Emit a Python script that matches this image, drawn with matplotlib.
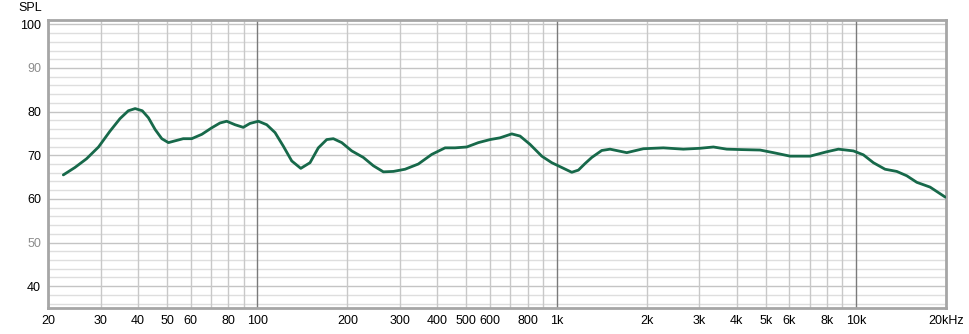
import matplotlib.pyplot as plt

# values (Hz, dB SPL)
freq = [22.5, 24.6, 26.9, 29.5, 32.2, 34.8, 37.1, 39.1, 41.3, 43.3, 45.6, 48.0,
        50.5, 53.1, 56.6, 60.4, 65.3, 70.5, 75.1, 79.1, 84.3, 89.8, 94.6, 100.9,
        107.6, 114.7, 122.2, 130.4, 139.8, 150.1, 160.0, 170.7, 179.6, 191.6,
        206.9, 226.2, 244.3, 263.9, 285.0, 311.8, 345.4, 382.8, 424.2, 458.0,
        501.2, 548.0, 599.8, 647.4, 708.6, 755.2, 815.4, 892.4, 963.6, 1041,
        1124, 1183, 1245, 1311, 1416, 1509, 1716, 1950, 2274, 2652, 3016, 3342,
        3704, 4150, 4786, 5302, 6028, 7031, 7992, 8740, 9810, 10594, 11440,
        12518, 13694, 14792, 15976, 17702, 19900]
spl = [65.5, 67.2, 69.2, 71.9, 75.5, 78.4, 80.2, 80.7, 80.2, 78.6, 75.9, 73.8,
       72.9, 73.3, 73.8, 73.8, 74.8, 76.3, 77.4, 77.8, 77.0, 76.4, 77.3, 77.8,
       77.0, 75.2, 72.1, 68.7, 67.0, 68.3, 71.7, 73.6, 73.8, 72.9,
       71.0, 69.5, 67.6, 66.2, 66.3, 66.8, 68.0, 70.2, 71.7, 71.7,
       71.9, 72.9, 73.6, 74.0, 74.9, 74.4, 72.5, 69.8, 68.3, 67.2,
       66.1, 66.6, 68.1, 69.5, 71.1, 71.4, 70.6, 71.5, 71.7, 71.4, 71.6, 71.9,
       71.4, 71.3, 71.2, 70.6, 69.8, 69.8, 70.8, 71.4, 71.0, 70.1, 68.3,
       66.8, 66.3, 65.3, 63.8, 62.7, 60.4]

x_ticks = [20, 30, 40, 50, 60, 80, 100, 200, 300, 400, 500, 600, 800, 1000,
           2000, 3000, 4000, 5000, 6000, 8000, 10000, 20000]
x_labels = ['20', '30', '40', '50', '60', '80', '100', '200', '300', '400', '500',
            '600', '800', '1k', '2k', '3k', '4k', '5k', '6k', '8k', '10k', '20kHz']
y_ticks = [40, 50, 60, 70, 80, 90, 100]
y_label_colors = ['black', '#8c8c8c', 'black', 'black', 'black', '#8c8c8c', 'black']

plt.rcParams['font.family'] = ['Liberation Sans', 'DejaVu Sans']

fig = plt.figure(figsize=(9.7, 3.34), dpi=100)
ax = fig.add_axes([48 / 970, 26 / 334, 898 / 970, 288 / 334])

ax.set_xscale('log')
ax.set_xlim(20, 20000)
ax.set_ylim(35, 101)

# grid: 2 dB minor, 10 dB major
for v in range(36, 101, 2):
    c = '#c4c4c4' if v % 10 == 0 else '#dedede'
    ax.axhline(v, color=c, lw=1, zorder=0)
for dec in [10, 100, 1000]:
    for m in range(2, 10):
        ax.axvline(m * dec, color='#c8c8c8', lw=1, zorder=0)
for d in [100, 1000, 10000]:
    ax.axvline(d, color='#7a7a7a', lw=1, zorder=0)

ax.plot(freq, spl, color='#17694a', lw=2, solid_capstyle='round',
        solid_joinstyle='round', zorder=3)

ax.set_xticks(x_ticks)
ax.set_xticklabels(x_labels, fontsize=9)
ax.xaxis.set_minor_locator(plt.NullLocator())
ax.set_yticks(y_ticks)
ax.set_yticklabels([str(v) for v in y_ticks], fontsize=9)
for lab, c in zip(ax.get_yticklabels(), y_label_colors):
    lab.set_color(c)
ax.tick_params(length=0, pad=5)

for s in ax.spines.values():
    s.set_color('#a6a6a6')
    s.set_linewidth(2)

fig.text(18 / 970, 1 - 8 / 334, 'SPL', fontsize=9, va='center', ha='left')

fig.savefig('out.png', dpi=100)
